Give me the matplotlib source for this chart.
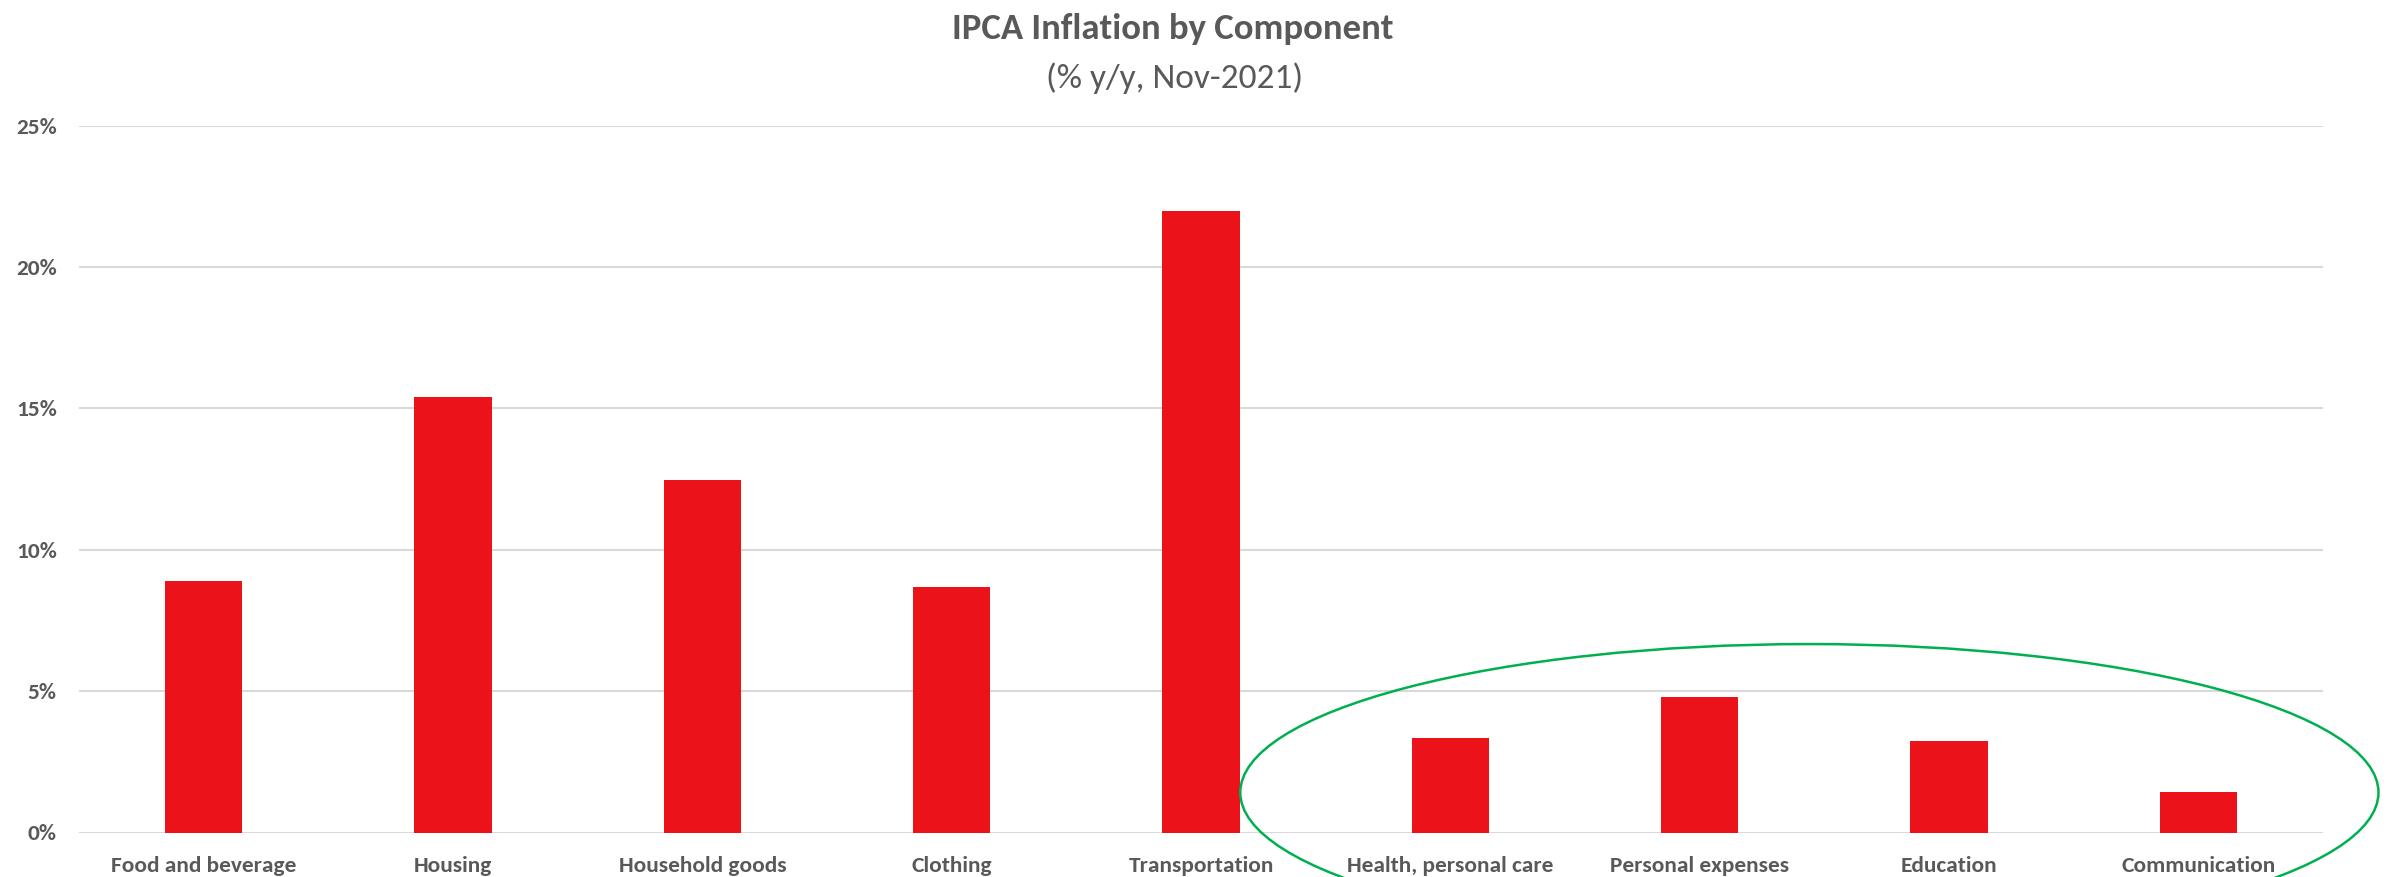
import matplotlib
matplotlib.use("Agg")
import matplotlib.pyplot as plt
from matplotlib import font_manager
from matplotlib.patches import Ellipse
from matplotlib.ticker import FuncFormatter

# IPCA 12-month inflation by group, Nov-2021 (%)
categories = [
    "Food and beverage", "Housing", "Household goods", "Clothing",
    "Transportation", "Health, personal care", "Personal expenses",
    "Education", "Communication",
]
inflation_yy = [8.89, 15.42, 12.47, 8.68, 21.97, 3.33, 4.81, 3.25, 1.43]
y_ticks = [0, 5, 10, 15, 20, 25]

title = "IPCA Inflation by Component"
subtitle = "(% y/y, Nov-2021)"

# Prefer a Calibri-compatible face when one is present
installed = {f.name for f in font_manager.fontManager.ttflist}
face = "Carlito" if "Carlito" in installed else "Lato"
plt.rcParams["font.family"] = [face, "DejaVu Sans"]

GREY = "#595959"
RED = "#EC121A"
GRID = "#D9D9D9"
GREEN = "#00B050"

W, H, DPI = 2390, 877, 100
fig = plt.figure(figsize=(W / DPI, H / DPI), dpi=DPI)
fig.patch.set_facecolor("white")

ax = fig.add_axes([79 / W, 1 - 832.5 / H, 2244 / W, (832.5 - 125.7) / H])
x = list(range(len(categories)))
ax.bar(x, inflation_yy, width=0.31, color=RED, zorder=3)

ax.set_xlim(-0.5, len(categories) - 0.5)
ax.set_ylim(0, 25)
ax.set_yticks(y_ticks)
ax.yaxis.set_major_formatter(FuncFormatter(lambda v, _: f"{v:.0f}%"))
ax.set_xticks(x)
ax.set_xticklabels(categories)

for s in ax.spines.values():
    s.set_visible(False)
ax.grid(axis="y", color=GRID, linewidth=1.5, zorder=0)
ax.tick_params(axis="both", length=0, colors=GREY, labelsize=16.8)
ax.tick_params(axis="x", pad=17)
ax.tick_params(axis="y", pad=16)
for lbl in ax.get_xticklabels() + ax.get_yticklabels():
    lbl.set_fontweight("bold")

# Highlight around the low-inflation service groups
ax.add_patch(Ellipse((6.44, 1.415), width=4.565, height=10.5,
                     fill=False, edgecolor=GREEN, linewidth=1.8,
                     clip_on=False, zorder=4))

fig.text(1173 / W, 1 - 39 / H, title, ha="center", va="baseline",
         fontsize=26.5, fontweight="bold", color=GREY)
fig.text(1175 / W, 1 - 88 / H, subtitle, ha="center", va="baseline",
         fontsize=25.5, color=GREY)

fig.savefig("out.png", dpi=DPI, facecolor="white")
